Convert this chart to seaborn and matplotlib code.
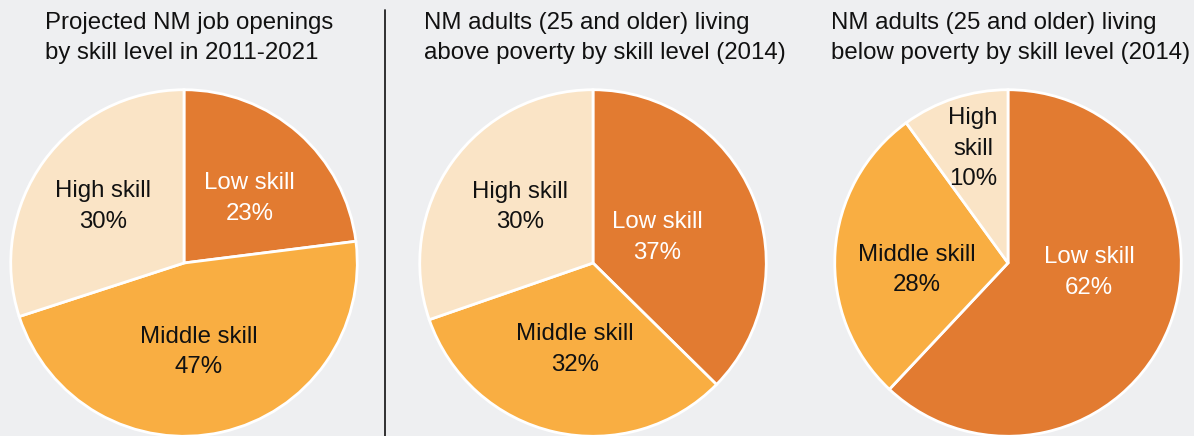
import matplotlib
matplotlib.use("Agg")
import matplotlib.pyplot as plt
import numpy as np
import seaborn as sns
from matplotlib.lines import Line2D

# ---- data -------------------------------------------------------------
categories = ["Low skill", "Middle skill", "High skill"]
job_openings = [23, 47, 30]
above_poverty = [37, 32, 30]
below_poverty = [62, 28, 10]

titles = [
    "Projected NM job openings\nby skill level in 2011-2021",
    "NM adults (25 and older) living\nabove poverty by skill level (2014)",
    "NM adults (25 and older) living\nbelow poverty by skill level (2014)",
]
slice_names = [
    ["Low skill", "Middle skill", "High skill"],
    ["Low skill", "Middle skill", "High skill"],
    ["Low skill", "Middle skill", "High\nskill"],
]

# ---- style ------------------------------------------------------------
BG = "#eeeff1"
sns.set_theme(style="white", rc={"figure.facecolor": BG, "axes.facecolor": BG})
plt.rcParams["font.family"] = ["Liberation Sans", "DejaVu Sans"]
palette = sns.color_palette(["#e27b31", "#f9ae42", "#fae4c6"])
text_colors = ["white", "#111111", "#111111"]

W, H = 1194, 436
fig = plt.figure(figsize=(W / 100, H / 100), dpi=100)

R = 175           # pie radius in pixels
CY = 263          # pie centre, pixels from top
centers_x = [184, 593, 1008]
title_x = [45, 424, 831]
FS = 17.3
LS = 1.5

# label placement: radial distance and angular nudge (deg) for each slice
label_dist = [[0.53, 0.52, 0.57], [0.40, 0.51, 0.53], [0.47, 0.53, 0.69]]
label_nudge = [[-4, -3, 1], [-1, 1, -2], [15, 8, -1]]

series = [job_openings, above_poverty, below_poverty]

for i, values in enumerate(series):
    cx = centers_x[i]
    ax = fig.add_axes([(cx - R) / W, (H - CY - R) / H, 2 * R / W, 2 * R / H])
    ax.set_facecolor("none")
    wedges, _ = ax.pie(
        values,
        colors=palette,
        startangle=90,
        counterclock=False,
        radius=1.0,
        wedgeprops=dict(edgecolor="white", linewidth=2.0),
    )
    ax.set_xlim(-1.01, 1.01)
    ax.set_ylim(-1.01, 1.01)
    ax.set_aspect("equal")
    ax.axis("off")
    for w in wedges:
        w.set_clip_on(False)

    for j, w in enumerate(wedges):
        ang = np.deg2rad((w.theta1 + w.theta2) / 2 + label_nudge[i][j])
        d = label_dist[i][j]
        ax.text(
            d * np.cos(ang), d * np.sin(ang),
            f"{slice_names[i][j]}\n{values[j]}%",
            ha="center", va="center", multialignment="center",
            fontsize=FS, color=text_colors[j], linespacing=LS,
        )

    fig.text(title_x[i] / W, 1 - 12 / H, titles[i], ha="left", va="top",
             fontsize=FS, color="#111111", linespacing=LS)

# vertical divider between the first chart and the others
fig.add_artist(Line2D([384.5 / W, 384.5 / W], [0, 1 - 10 / H],
                      transform=fig.transFigure, color="#222222", lw=1.3))

fig.savefig("out.png", dpi=100, facecolor=BG)
